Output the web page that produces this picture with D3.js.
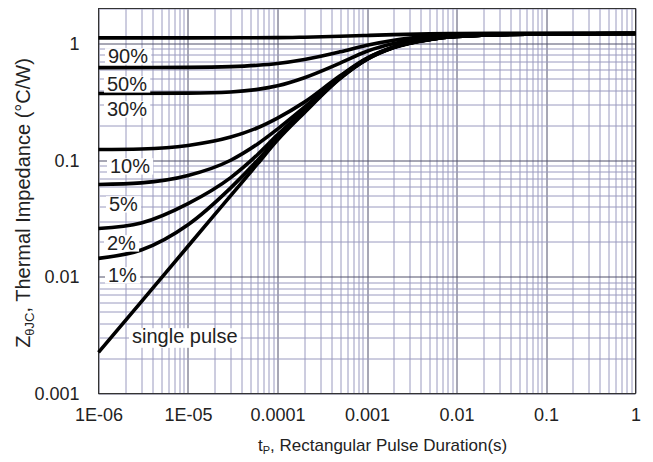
<!DOCTYPE html>
<html>
<head>
<meta charset="utf-8">
<script src="https://cdn.jsdelivr.net/npm/d3@7"></script>
<style>
  body { margin: 0; background: #fff; }
  text { font-family: 'Liberation Sans', Arial, sans-serif; fill: #222; }
</style>
</head>
<body>
<div id="wrapper"></div>
<script>
// data: [pulse duration (s), Z (°C/W)]
const xTicks = [1e-6, 1e-5, 1e-4, 1e-3, 1e-2, 1e-1, 1]
const xTickLabels = ['1E-06', '1E-05', '0.0001', '0.001', '0.01', '0.1', '1']
const yTicks = [0.001, 0.01, 0.1, 1]
const yTickLabels = ['0.001', '0.01', '0.1', '1']

const duty90 = [[1e-6, 1.12], [1e-5, 1.12], [1e-4, 1.125], [2e-4, 1.135], [5e-4, 1.155], [1e-3, 1.175], [2e-3, 1.195], [5e-3, 1.213], [1e-2, 1.22], [0.1, 1.225], [1, 1.225]]
const duty50 = [[1e-6, 0.623], [1e-5, 0.626], [3e-5, 0.635], [6e-5, 0.652], [1e-4, 0.675], [2e-4, 0.73], [5e-4, 0.85], [1e-3, 0.97], [2e-3, 1.07], [5e-3, 1.16], [1e-2, 1.2], [0.1, 1.22], [1, 1.225]]
const duty30 = [[1e-6, 0.373], [1e-5, 0.376], [3e-5, 0.385], [6e-5, 0.405], [1e-4, 0.435], [2e-4, 0.51], [5e-4, 0.68], [1e-3, 0.86], [2e-3, 1.0], [5e-3, 1.11], [1e-2, 1.16], [0.1, 1.21], [1, 1.22]]
const duty10 = [[1e-6, 0.1235], [3e-6, 0.125], [1e-5, 0.134], [3e-5, 0.158], [6e-5, 0.19], [1e-4, 0.23], [2e-4, 0.315], [5e-4, 0.53], [1e-3, 0.75], [2e-3, 0.935], [5e-3, 1.085], [1e-2, 1.15], [0.1, 1.21], [1, 1.22]]
const duty5 = [[1e-6, 0.062], [3e-6, 0.064], [1e-5, 0.074], [3e-5, 0.1], [6e-5, 0.138], [1e-4, 0.185], [2e-4, 0.285], [5e-4, 0.52], [1e-3, 0.745], [2e-3, 0.935], [5e-3, 1.085], [1e-2, 1.15], [0.1, 1.21], [1, 1.22]]
const duty2 = [[1e-6, 0.026], [3e-6, 0.029], [1e-5, 0.0425], [3e-5, 0.071], [6e-5, 0.112], [1e-4, 0.165], [2e-4, 0.27], [5e-4, 0.51], [1e-3, 0.74], [2e-3, 0.93], [5e-3, 1.085], [1e-2, 1.15], [0.1, 1.21], [1, 1.22]]
const duty1 = [[1e-6, 0.0144], [3e-6, 0.017], [1e-5, 0.028], [3e-5, 0.058], [6e-5, 0.1], [1e-4, 0.156], [2e-4, 0.262], [5e-4, 0.505], [1e-3, 0.735], [2e-3, 0.93], [5e-3, 1.085], [1e-2, 1.15], [0.1, 1.21], [1, 1.22]]
const single = [[1e-6, 0.00225], [3e-6, 0.0061], [1e-5, 0.0183], [3e-5, 0.0497], [6e-5, 0.0934], [1e-4, 0.149], [2e-4, 0.256], [5e-4, 0.5], [1e-3, 0.73], [2e-3, 0.924], [5e-3, 1.08], [1e-2, 1.15], [0.1, 1.21], [1, 1.22]]

const curves = [duty90, duty50, duty30, duty10, duty5, duty2, duty1, single]
const curveLabels = ['90%', '50%', '30%', '10%', '5%', '2%', '1%', 'single pulse']
// label anchor: [left x, baseline y] in px
const labelPos = [[108, 63], [107, 91], [107, 116], [110, 173], [109, 211], [107, 250], [108, 282], [132, 343]]

const dimensions = {
  width: 653,
  height: 462,
  margin: { top: 8.5, right: 17.5, bottom: 68.5, left: 98.5 },
}
dimensions.boundedWidth = dimensions.width - dimensions.margin.left - dimensions.margin.right
dimensions.boundedHeight = dimensions.height - dimensions.margin.top - dimensions.margin.bottom

const svg = d3.select('#wrapper').append('svg')
  .attr('width', dimensions.width)
  .attr('height', dimensions.height)

const bounds = svg.append('g')
  .attr('transform', `translate(${dimensions.margin.left},${dimensions.margin.top})`)

const xScale = d3.scaleLog().domain([1e-6, 1]).range([0, dimensions.boundedWidth])
const yScale = d3.scaleLog().domain([0.001, 2]).range([dimensions.boundedHeight, 0])

// grid
const xGrid = xScale.ticks()
const yGrid = yScale.ticks()
const isDecade = (v) => Math.abs(Math.log10(v) - Math.round(Math.log10(v))) < 1e-6

bounds.append('g').selectAll('line')
  .data(xGrid)
  .join('line')
  .attr('x1', (d) => Math.round(xScale(d)) + 0.5)
  .attr('x2', (d) => Math.round(xScale(d)) + 0.5)
  .attr('y1', 0)
  .attr('y2', dimensions.boundedHeight)
  .attr('stroke', (d) => (isDecade(d) ? '#50506a' : '#9a9abf'))
  .attr('stroke-width', 1)

bounds.append('g').selectAll('line')
  .data(yGrid)
  .join('line')
  .attr('y1', (d) => Math.round(yScale(d)) + 0.5)
  .attr('y2', (d) => Math.round(yScale(d)) + 0.5)
  .attr('x1', 0)
  .attr('x2', dimensions.boundedWidth)
  .attr('stroke', (d) => (isDecade(d) ? '#50506a' : '#9a9abf'))
  .attr('stroke-width', 1)

bounds.append('rect')
  .attr('width', dimensions.boundedWidth)
  .attr('height', dimensions.boundedHeight)
  .attr('fill', 'none')
  .attr('stroke', '#333')

// tick labels
const xAxis = bounds.append('g')
  .attr('transform', `translate(0,${dimensions.boundedHeight})`)
  .call(d3.axisBottom(xScale).tickValues(xTicks).tickSize(0).tickPadding(15)
    .tickFormat((d, i) => xTickLabels[i]))
xAxis.select('.domain').remove()
xAxis.selectAll('text').style('font-size', '18px').attr('fill', '#222')

const yAxis = bounds.append('g')
  .call(d3.axisLeft(yScale).tickValues(yTicks).tickSize(0).tickPadding(19)
    .tickFormat((d, i) => yTickLabels[i]))
yAxis.select('.domain').remove()
yAxis.selectAll('text').style('font-size', '18px').attr('fill', '#222')

// curves
const lineGenerator = d3.line()
  .x((d) => xScale(d[0]))
  .y((d) => yScale(d[1]))
  .curve(d3.curveMonotoneX)

bounds.append('g').selectAll('path')
  .data(curves)
  .join('path')
  .attr('d', lineGenerator)
  .attr('fill', 'none')
  .attr('stroke', '#000')
  .attr('stroke-width', 3.6)

// labels with tight white boxes
const labelSize = 20
const labelGroup = svg.append('g')
curveLabels.forEach((label, i) => {
  const g = labelGroup.append('g')
  const t = g.append('text')
    .attr('x', labelPos[i][0])
    .attr('y', labelPos[i][1])
    .style('font-size', `${labelSize}px`)
    .text(label)
  const box = t.node().getBBox()
  const hasDescender = /[gpqy]/.test(label)
  const top = labelPos[i][1] - labelSize * 0.74
  const bottom = labelPos[i][1] + (hasDescender ? labelSize * 0.24 : labelSize * 0.08)
  g.insert('rect', 'text')
    .attr('x', box.x - 3)
    .attr('y', top)
    .attr('width', box.width + 6)
    .attr('height', bottom - top)
    .attr('fill', '#fff')
})

// axis titles
const xTitle = svg.append('text')
  .attr('x', 258)
  .attr('y', 451)
  .style('font-size', '17px')
xTitle.append('tspan').text('t')
xTitle.append('tspan').text('P').style('font-size', '11px').attr('dy', 3)
xTitle.append('tspan').text(', Rectangular Pulse Duration(s)').attr('dy', -3)

const yTitle = svg.append('text')
  .attr('transform', 'translate(30,203) rotate(-90)')
  .attr('text-anchor', 'middle')
  .style('font-size', '20px')
yTitle.append('tspan').text('Z')
yTitle.append('tspan').text('θJC').style('font-size', '13px').attr('dy', 4)
yTitle.append('tspan').text(', Thermal Impedance (°C/W)').attr('dy', -4)
</script>
</body>
</html>
